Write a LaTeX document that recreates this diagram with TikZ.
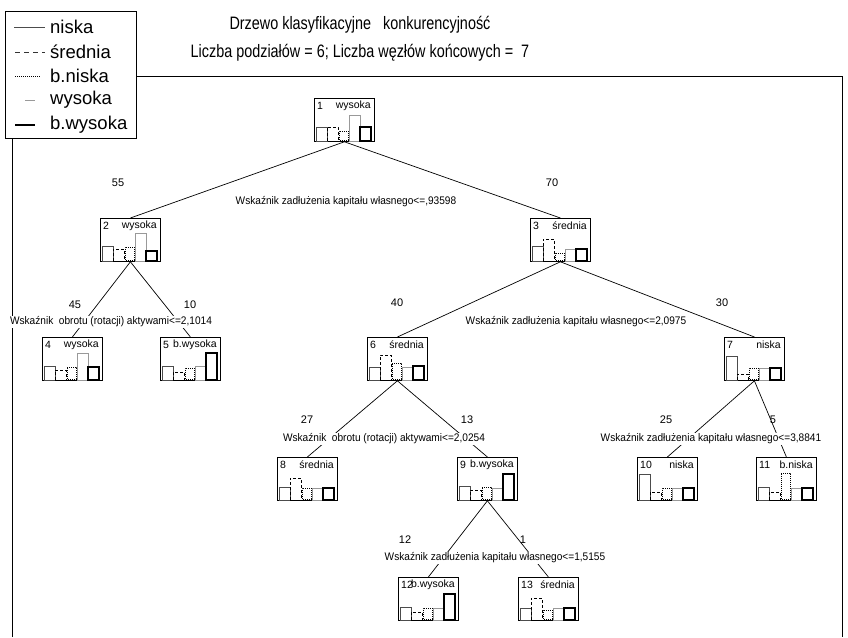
\documentclass[tikz,border=0pt]{standalone}
\usepackage{fontspec}
\setmainfont{Liberation Sans}
\usetikzlibrary{calc}
\tikzset{
 tbox/.style={draw=black, line width=0.8pt, fill=white, minimum width=60pt, minimum height=43pt, inner sep=0pt, anchor=north west},
 lab/.style={font=\fontsize{11}{13}\selectfont, inner sep=1pt},
 slab/.style={font=\fontsize{11}{13}\selectfont, inner sep=1pt, fill=white},
 hdr/.style={font=\fontsize{10.5}{12}\selectfont, inner sep=0pt},
 legtxt/.style={font=\fontsize{18.5}{20}\selectfont, inner sep=0pt, anchor=west},
 cniska/.style={draw=black!70, line width=0.6pt},
 csred/.style={draw=black, dash pattern=on 3pt off 2pt, line width=0.6pt},
 lsred/.style={draw=black!80, dash pattern=on 5pt off 4pt, line width=0.7pt},
 cbnis/.style={draw=black, dash pattern=on 1pt off 1pt, line width=0.8pt},
 cwys/.style={draw=black!40, line width=0.8pt},
 cbwys/.style={draw=black, line width=1.2pt},
 edge/.style={draw=black, line width=0.7pt},
}
\newcommand\mynode[5]{%
 \node[tbox] (#1) at (#2,#3) {};
 \node[hdr, anchor=west] (#1num) at (#2+3,#3+8) {#4};
 \node[hdr, anchor=east] (#1cls) at (#2+57,#3+8) {#5};
}
\newcommand\mybars[7]{%
 \draw[cniska] (#1+2,#2+43) rectangle (#1+13,#2+43-#3);
 \draw[csred] (#1+13,#2+43) rectangle (#1+24,#2+43-#4);
 \draw[cbnis] (#1+25,#2+42) rectangle (#1+34,#2+43-#5);
 \draw[cwys] (#1+35,#2+43) rectangle (#1+46,#2+43-#6);
 \draw[cbwys] (#1+46,#2+43) rectangle (#1+57,#2+43-#7);
}
\newcommand\splittext[1]{\scalebox{0.92}[1]{#1}}
\begin{document}
\begin{tikzpicture}[x=1pt,y=-1pt]
\useasboundingbox (0,0) rectangle (848,637);
% frame
\draw[line width=0.8pt] (12,637) -- (12,76) -- (842,76) -- (842,637);
% legend
\node[draw, fill=white, line width=0.8pt, minimum width=131pt, minimum height=127pt, anchor=north west, inner sep=0pt] (legend) at (5,11) {};
\draw[cniska] (14,27) -- (45,27);
\node[legtxt] (l1) at (50,27) {niska};
\draw[lsred] (15,52) -- (45,52);
\node[legtxt] (l2) at (50,52) {średnia};
\draw[cbnis] (15,76) -- (40,76);
\node[legtxt] (l3) at (50,76) {b.niska};
\draw[cwys] (25,100) -- (35,100);
\node[legtxt] (l4) at (50,100) {wysoka};
\draw[cbwys] (15,125) -- (35,125);
\node[legtxt] (l5) at (50,125) {b.wysoka};
% title
\node[inner sep=0pt] (t1) at (360,25) {\scalebox{0.8}[1]{\fontsize{18}{20}\selectfont Drzewo klasyfikacyjne \ \ konkurencyjność}};
\node[inner sep=0pt] (t2) at (360,53) {\scalebox{0.8}[1]{\fontsize{18}{20}\selectfont Liczba podziałów = 6; Liczba węzłów końcowych = \ 7}};
% nodes
\mynode{n1}{314}{98}{1}{wysoka}
\mynode{n2}{100}{218}{2}{wysoka}
\mynode{n3}{530}{218}{3}{średnia}
\mynode{n4}{42}{337}{4}{wysoka}
\mynode{n5}{160}{337}{5}{b.wysoka}
\mynode{n6}{367}{337}{6}{średnia}
\mynode{n7}{724}{337}{7}{niska}
\mynode{n8}{277}{457}{8}{średnia}
\mynode{n9}{457}{457}{9}{b.wysoka}
\mynode{n10}{637}{457}{10}{niska}
\mynode{n11}{756}{457}{11}{b.niska}
\mynode{n12}{398}{577}{12}{b.wysoka}
\mynode{n13}{518}{577}{13}{średnia}
% bars
\mybars{314}{98}{14}{14}{10}{26}{14}
\mybars{100}{218}{15}{12}{14}{28}{10}
\mybars{530}{218}{15}{22}{8}{12}{12}
\mybars{42}{337}{14}{10}{13}{27}{13}
\mybars{160}{337}{14}{8}{12}{14}{27}
\mybars{367}{337}{13}{25}{17}{13}{14}
\mybars{724}{337}{24}{6}{12}{12}{12}
\mybars{277}{457}{13}{22}{12}{12}{12}
\mybars{457}{457}{14}{10}{13}{12}{26}
\mybars{637}{457}{26}{8}{12}{12}{12}
\mybars{756}{457}{13}{8}{27}{12}{12}
\mybars{398}{577}{13}{8}{12}{12}{26}
\mybars{518}{577}{12}{22}{10}{12}{12}
% edges
\draw[edge] (n1.south) -- (n2.north);
\draw[edge] (n1.south) -- (n3.north);
\draw[edge] (n2.south) -- (n4.north);
\draw[edge] (n2.south) -- (n5.north);
\draw[edge] (n3.south) -- (n6.north);
\draw[edge] (n3.south) -- (n7.north);
\draw[edge] (n6.south) -- (n8.north);
\draw[edge] (n6.south) -- (n9.north);
\draw[edge] (n7.south) -- (n10.north);
\draw[edge] (n7.south) -- (n11.north);
\draw[edge] (n9.south) -- (n12.north);
\draw[edge] (n9.south) -- (n13.north);
% counts
\node[lab] (c2) at (118,183) {55};
\node[lab] (c3) at (552,183) {70};
\node[lab] (c4) at (75,305) {45};
\node[lab] (c5) at (190,305) {10};
\node[lab] (c6) at (397,303) {40};
\node[lab] (c7) at (722,303) {30};
\node[lab] (c8) at (307,420) {27};
\node[lab] (c9) at (467,420) {13};
\node[lab] (c10) at (666,420) {25};
\node[lab] (c11) at (773,420) {5};
\node[lab] (c12) at (405,540) {12};
\node[lab] (c13) at (523,540) {1};
% split labels
\node[slab] (s1) at (346,202) {\splittext{Wskaźnik zadłużenia kapitału własnego<=,93598}};
\node[slab] (s2) at (111,322) {\splittext{Wskaźnik \ obrotu (rotacji) aktywami<=2,1014}};
\node[slab] (s3) at (576,322) {\splittext{Wskaźnik zadłużenia kapitału własnego<=2,0975}};
\node[slab] (s6) at (384,439) {\splittext{Wskaźnik \ obrotu (rotacji) aktywami<=2,0254}};
\node[slab] (s7) at (711,439) {\splittext{Wskaźnik zadłużenia kapitału własnego<=3,8841}};
\node[slab] (s9) at (495,558) {\splittext{Wskaźnik zadłużenia kapitału własnego<=1,5155}};
\end{tikzpicture}
\end{document}
